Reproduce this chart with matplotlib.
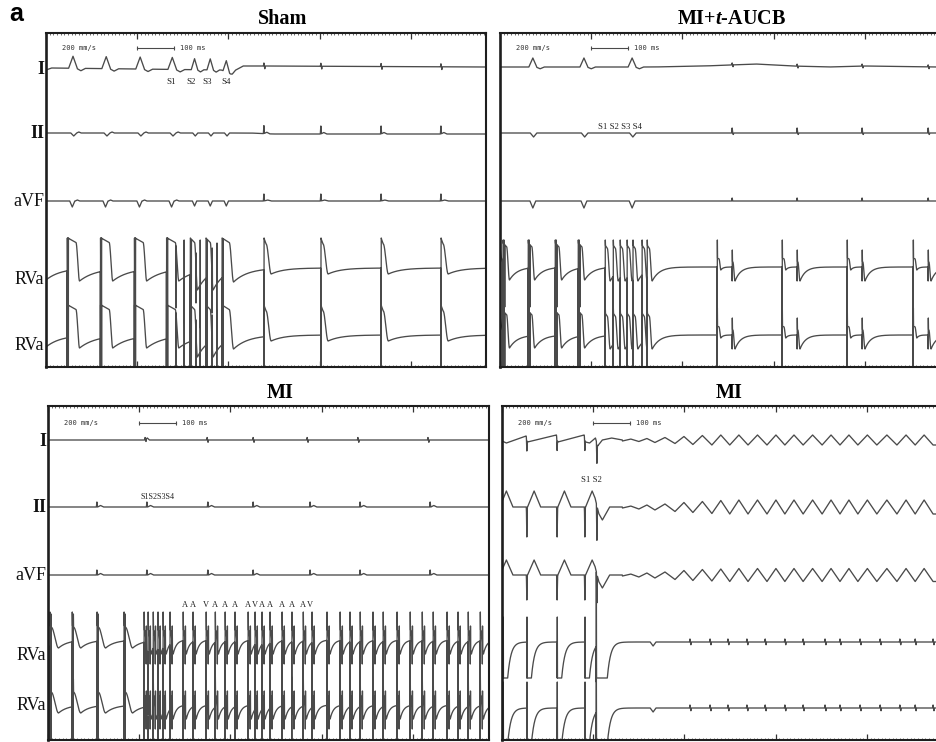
import numpy as np
import matplotlib
matplotlib.use("Agg")
from matplotlib import pyplot as plt
from matplotlib.ticker import MultipleLocator

# ---------------- data ----------------
# all times are ms from the left edge of each panel (100 ms = 36.5 px)

# Sham
sham_paced = [60, 151, 244, 332]            # S1 train, RV apex capture
sham_extra = [395, 438, 482]                # S2, S3, S4
sham_sinus = [597, 753, 918, 1082]
sham_chaos = [356, 378, 411, 422, 455, 468]
sham_chaos_low = [-40, -55, -35, -60, -45, -50]
sham_chaos_high = [22, 28, 15, 28, 20, 25]
sham_s_text = ["S1", "S2", "S3", "S4"]
sham_s_pos = [342, 397, 441, 493]

# MI + t-AUCB
aucb_paced = [8, 77, 151, 214]
aucb_burst = [288, 310, 329, 348, 364, 389, 403]
aucb_ecg_paced = [90, 230, 362]
aucb_sinus_a = [595, 773, 951, 1132]
aucb_sinus_b = [636, 814, 992, 1173]
aucb_s_pos = 329

# MI, VT induced
mi_paced = [5, 66, 134, 208]
mi_vt = [263, 274, 288, 301, 315, 334, 370, 397, 433, 458, 485, 512, 548, 567,
         586, 608, 641, 668, 699, 723, 764, 800, 827, 855, 890, 918, 956, 992,
         1025, 1055, 1093, 1123, 1151, 1184]
mi_sinus_I = [266, 436, 562, 710, 849, 1041]
mi_sinus = [134, 271, 438, 562, 718, 855, 1047]
mi_s_pos = 301
mi_av_text = ["A", "A", "V", "A", "A", "A", "A", "V", "A", "A", "A", "A", "A", "V"]
mi_av_pos = [375, 397, 433, 458, 485, 512, 548, 567, 586, 608, 641, 668, 699, 718]

# MI, flutter induced
mi2_stims = [3, 68, 151, 227, 258]
mi2_ecg_stims = [-8, 68, 151, 227]
mi2_I_kx = [0, 12, 66, 70, 149, 153, 225, 229, 240, 256, 262, 275, 300, 330]
mi2_I_ky = [-1, -3, 4, -2, 5, -2, 5, -2, -3, 2, -6, 0, 2, 0]
mi2_flutter = [330, 375, 419, 474, 523, 575, 624, 674, 726, 775, 825, 877,
               926, 975, 1027, 1082, 1132, 1181]
mi2_pp_I = [2, 3, 5, 7, 9, 10, 10, 10, 10, 10, 10, 10, 10, 10, 10, 10, 10, 10]
mi2_pp_II = [2, 4, 6, 9, 11, 13, 14, 14, 14, 14, 14, 14, 14, 14, 14, 14, 14, 14]
mi2_pp_aVF = [2, 4, 6, 9, 11, 12, 13, 13, 13, 13, 13, 13, 13, 13, 13, 13, 13, 13]
mi2_rva_blips = [515, 570, 619, 671, 721, 775, 825, 885, 926, 981, 1036, 1090, 1132, 1181]
mi2_rva_dip = 414
mi2_s_pos = 245

lead_names = ["I", "II", "aVF", "RVa", "RVa"]
scale_bar = [250, 350]

# ---------------- drawing helpers ----------------
W, H = 937, 742
PX_PER_MS = 0.365
DT = 0.5
INK = "#4a4a4a"
SERIF = "Liberation Serif"

plt.rcParams["mathtext.fontset"] = "custom"
plt.rcParams["mathtext.it"] = "Liberation Serif:bold:italic"
plt.rcParams["mathtext.rm"] = "Liberation Serif:bold"

fig = plt.figure(figsize=(W / 100, H / 100), dpi=100)


def tri(t, t0, half, amp):
    return amp * np.clip(1 - np.abs(t - t0) / half, 0, None)


def bump(t, t0, amp, half):
    return tri(t, t0, half, amp) + tri(t, t0 + 1.8 * half, half, -0.2 * amp)


def biphasic(t, t0, amp, w=1.2, neg=1.0):
    return tri(t, t0, w, amp) + tri(t, t0 + 2 * w, w, -neg * amp)


def map_shape(s, top, plat, fall, trough, tau, droop=0.85):
    out = np.empty_like(s)
    a = s < plat
    out[a] = top * (1 - (1 - droop) * s[a] / plat)
    b = (s >= plat) & (s < plat + fall)
    f = (s[b] - plat) / fall
    out[b] = top * droop + (trough - top * droop) * (0.5 - 0.5 * np.cos(np.pi * f))
    c = s >= plat + fall
    out[c] = trough * np.exp(-(s[c] - plat - fall) / tau)
    return out


def map_trace(t, events, start=0.0, start_tau=40.0):
    y = start * np.exp(-t / start_tau)
    events = sorted(events, key=lambda e: e[0])
    for k, (t0, p) in enumerate(events):
        t1 = events[k + 1][0] if k + 1 < len(events) else t[-1] + 1
        m = (t >= t0) & (t < t1)
        y[m] = map_shape(t[m] - t0, **p)
    return y


def add_spikes(t, y, spikes):
    for t0, lo, hi in spikes:
        i = np.searchsorted(t, t0)
        if 0 <= i < len(t) - 1:
            y[i] = lo
            y[i + 1] = hi
    return y


def flutter(t, troughs, pp):
    xs, ys = [], []
    for k, tr in enumerate(troughs):
        xs.append(tr)
        ys.append(-pp[k] / 2)
        if k + 1 < len(troughs):
            xs.append((tr + troughs[k + 1]) / 2)
            ys.append(pp[k] / 2)
    y = np.interp(t, xs, ys)
    y[t < xs[0]] = 0
    return y


def add_panel(left, top, right, bottom, right_spine=True):
    ax = fig.add_axes([left / W, 1 - bottom / H, (right - left) / W, (bottom - top) / H])
    width = (right - left) / PX_PER_MS
    ax.set_xlim(0, width)
    ax.set_ylim(bottom - top, 0)
    ax.set_yticks([])
    ax.xaxis.set_major_locator(MultipleLocator(250))
    ax.xaxis.set_minor_locator(MultipleLocator(10))
    ax.tick_params(axis="x", which="both", direction="in", top=True, bottom=True,
                   labelbottom=False, color="#333333")
    ax.tick_params(axis="x", which="major", length=4, width=0.9)
    ax.tick_params(axis="x", which="minor", length=1.6, width=0.5)
    for side in ["top", "bottom", "left", "right"]:
        ax.spines[side].set_linewidth(1.5)
        ax.spines[side].set_color("#1e1e1e")
    ax.spines["left"].set_linewidth(1.9)
    ax.spines["right"].set_visible(right_spine)
    t = np.arange(0, width + DT, DT)
    # scale bar
    yb = 15 if top < 200 else 17
    ax.plot(scale_bar, [yb, yb], color=INK, lw=0.8)
    ax.plot(scale_bar, [yb, yb], ls="none", marker="|", ms=3.2, mew=0.8, color=INK)
    ax.text(45, yb, "200 mm/s", fontsize=5, family="DejaVu Sans Mono",
            va="center", ha="left", color="#333333")
    ax.text(367, yb, "100 ms", fontsize=5, family="DejaVu Sans Mono",
            va="center", ha="left", color="#333333")
    return ax, t


def draw(ax, t, base, defl):
    ax.plot(t, base - defl, color=INK, lw=0.95)


def row_labels(ys, x_right):
    for name, y in zip(lead_names, ys):
        bold = name in ("I", "II")
        fig.text(x_right / W, 1 - y / H, name, ha="right", va="center",
                 family=SERIF, fontsize=13, weight="bold" if bold else "normal",
                 color="#111111")


# ---------------- panel: Sham ----------------
ax, t = add_panel(46, 33, 486, 367)
p = np.array(sham_paced)
e = np.array(sham_extra)

dI = np.interp(t, [0, 15, 480, 505, 540, 600, 1205], [0, 2, 0, -3, 4, 4, 3])
dI += sum(bump(t, x + 14, 12, 12) for x in p)
dI += sum(bump(t, x + 12, 11, 9) for x in e)
dI += sum(biphasic(t, x, 3) for x in sham_sinus)
draw(ax, t, 37, dI)

dII = np.interp(t, [0, 560, 620, 1205], [0, 0, -1, -1])
dII += sum(tri(t, x + 16, 8, -3) + tri(t, x + 30, 6, 1) for x in p)
dII += sum(tri(t, x + 14, 7, -3) for x in e)
dII += sum(tri(t, x, 1.5, 8) + tri(t, x + 8, 8, 1.5) for x in sham_sinus)
draw(ax, t, 100, dII)

dV = sum(tri(t, x + 12, 7, -6) + tri(t, x + 26, 6, 1) for x in p)
dV += sum(tri(t, x + 12, 6, -5) for x in e)
dV += sum(tri(t, x, 1.5, 7) + tri(t, x + 10, 10, 1) for x in sham_sinus)
draw(ax, t, 168, dV)

paced_p = dict(top=30, plat=22, fall=10, trough=-13, tau=45)
extra_p = dict(top=30, plat=12, fall=8, trough=-22, tau=30)
last_p = dict(top=30, plat=20, fall=12, trough=-14, tau=40)
sinus_p = dict(top=30, plat=6, fall=14, trough=-6, tau=35, droop=0.8)
ev = [(x, paced_p) for x in p] + [(x, extra_p) for x in e[:-1]] + [(e[-1], last_p)]
ev += [(x, sinus_p) for x in sham_sinus]
spk = [(x - 2, -110, 30) for x in p] + [(x + 1, -110, 30) for x in p]
spk += [(x, -110, 30) for x in e] + [(x + 3, -60, 28) for x in e]
spk += list(zip(sham_chaos, sham_chaos_low, sham_chaos_high))
spk += [(x, -110, 30) for x in sham_sinus]
for base in (235, 302):
    y = map_trace(t, ev, start=-12)
    draw(ax, t, base, add_spikes(t, y, spk))

for s, x in zip(sham_s_text, sham_s_pos):
    ax.text(x, 49, s, family=SERIF, fontsize=6.5, ha="center", va="center", color="#222222")

# ---------------- panel: MI + t-AUCB ----------------
ax, t = add_panel(500, 33, 937, 367, right_spine=False)
q = np.array(aucb_ecg_paced)
dI = np.interp(t, [0, 420, 560, 700, 800, 900, 1000, 1200], [0, 0, 1, 3, 1, 0, 1, 0])
dI += sum(bump(t, x, 9, 11) for x in q)
dI += sum(biphasic(t, x, 2) for x in aucb_sinus_b)
draw(ax, t, 34, dI)

dII = sum(tri(t, x + 2, 9, -4) for x in q)
dII += sum(tri(t, x, 1.5, 5) + tri(t, x + 3, 2, -1.5) for x in aucb_sinus_b)
draw(ax, t, 100, dII)

dV = sum(tri(t, x, 8, -7) for x in q)
dV += sum(tri(t, x, 1.5, 3) for x in aucb_sinus_b)
draw(ax, t, 168, dV)

paced_p = dict(top=24, plat=10, fall=8, trough=-13, tau=22)
burst_p = dict(top=22, plat=6, fall=8, trough=-14, tau=20)
sa_p = dict(top=9, plat=5, fall=5, trough=-3, tau=6, droop=0.9)
sb_p = dict(top=6, plat=2, fall=6, trough=-14, tau=15)
ev = [(x, paced_p) for x in aucb_paced] + [(x, burst_p) for x in aucb_burst]
ev += [(x, sa_p) for x in aucb_sinus_a] + [(x, sb_p) for x in aucb_sinus_b]
spk = [(x, -110, 27) for x in aucb_paced] + [(x + 2.5, -110, 27) for x in aucb_paced]
spk += [(x + 5, -40, 20) for x in aucb_paced]
spk += [(x, -110, 27) for x in aucb_burst] + [(x, -110, 27) for x in aucb_sinus_a]
spk += [(x, -14, 17) for x in aucb_sinus_b]
for base in (234, 302):
    y = map_trace(t, ev, start=20, start_tau=5)
    draw(ax, t, base, add_spikes(t, y, spk))
ax.text(aucb_s_pos, 94, "S1 S2 S3 S4", family=SERIF, fontsize=6.3, ha="center",
        va="center", color="#222222")

# ---------------- panel: MI (VT) ----------------
ax, t = add_panel(48, 406, 489, 740)
dI = sum(biphasic(t, x, 2.5) for x in mi_sinus_I) + tri(t, mi_sinus_I[0] + 6, 6, 2)
draw(ax, t, 34, dI)
dII = sum(tri(t, x, 1.5, 5) + tri(t, x + 10, 8, 1.5) for x in mi_sinus)
draw(ax, t, 101, dII)
dV = sum(tri(t, x, 1.5, 5) + tri(t, x + 10, 8, 1.5) for x in mi_sinus)
draw(ax, t, 169, dV)

paced_p = dict(top=15, plat=4, fall=20, trough=-8, tau=25)
vt_p = dict(top=11, plat=2, fall=7, trough=-14, tau=9)
ev = [(x, paced_p) for x in mi_paced] + [(x, vt_p) for x in mi_vt]
for base, lo in ((234, -75), (299, -45)):
    spk = [(x, -110, 28) for x in mi_paced] + [(x + 3, -110, 26) for x in mi_paced]
    spk += [(x, lo, 28) for x in mi_vt]
    spk += [(x + 6, -24, 14) for x in mi_vt]      # fragmented second deflection
    y = map_trace(t, ev, start=-10, start_tau=10)
    draw(ax, t, base, add_spikes(t, y, spk))
ax.text(mi_s_pos, 91, "S1S2S3S4", family=SERIF, fontsize=5.8, ha="center",
        va="center", color="#222222")
for s, x in zip(mi_av_text, mi_av_pos):
    ax.text(x, 199, s, family=SERIF, fontsize=6, ha="center", va="center", color="#222222")

# ---------------- panel: MI (flutter) ----------------
ax, t = add_panel(502, 406, 937, 740, right_spine=False)
dI = np.interp(t, mi2_I_kx, mi2_I_ky)
dI += sum(tri(t, x, 1.2, -12) for x in mi2_stims[1:4]) + tri(t, mi2_stims[4] + 2, 1.5, -20)
dI += flutter(t, mi2_flutter, mi2_pp_I)
draw(ax, t, 34, dI)

for base, pk, sp, pp in ((101, 16, -30, mi2_pp_II), (169, 15, -25, mi2_pp_aVF)):
    d = sum(tri(t, x + 20, 18, pk) + tri(t, x, 1.2, sp) for x in mi2_ecg_stims)
    d += tri(t, mi2_stims[4] + 2, 1.5, sp * 1.15) + tri(t, mi2_stims[4] + 17, 20, -13)
    d += flutter(t, mi2_flutter, pp)
    draw(ax, t, base, d)

clamp_p = dict(top=-36, plat=12, fall=0.5, trough=-36, tau=9, droop=1.0)
clamp_last = dict(top=-36, plat=30, fall=0.5, trough=-36, tau=9, droop=1.0)
ev = [(x, clamp_p) for x in mi2_stims[:-1]] + [(mi2_stims[-1], clamp_last)]
for base, hi, hi_last in ((236, 25, 70), (302, 26, 40)):
    y = map_trace(t, ev, start=-36, start_tau=1e9)
    y += sum(biphasic(t, x, 3) for x in mi2_rva_blips) + tri(t, mi2_rva_dip, 8, -4)
    spk = [(x, -36, hi) for x in mi2_stims[:-1]] + [(mi2_stims[-1], -40, hi_last)]
    draw(ax, t, base, add_spikes(t, y, spk))
ax.text(mi2_s_pos, 74, "S1 S2", family=SERIF, fontsize=6.3, ha="center",
        va="center", color="#222222")

# ---------------- titles and labels ----------------
row_labels([70, 133, 201, 279, 346], 44)
row_labels([441, 507, 575, 655, 706], 46)
title_kw = dict(ha="center", va="center", family=SERIF, fontsize=14.5, weight="bold")
fig.text(283 / W, 1 - 19 / H, "Sham", **title_kw)
fig.text(732 / W, 1 - 19 / H, r"MI+$\mathit{t}$-AUCB", **title_kw)
fig.text(280 / W, 1 - 393 / H, "MI", **title_kw)
fig.text(729 / W, 1 - 393 / H, "MI", **title_kw)
fig.text(9 / W, 1 - 2 / H, "a", ha="left", va="top", family="Liberation Sans",
         fontsize=18, weight="bold")

fig.savefig("out.png", dpi=100)
